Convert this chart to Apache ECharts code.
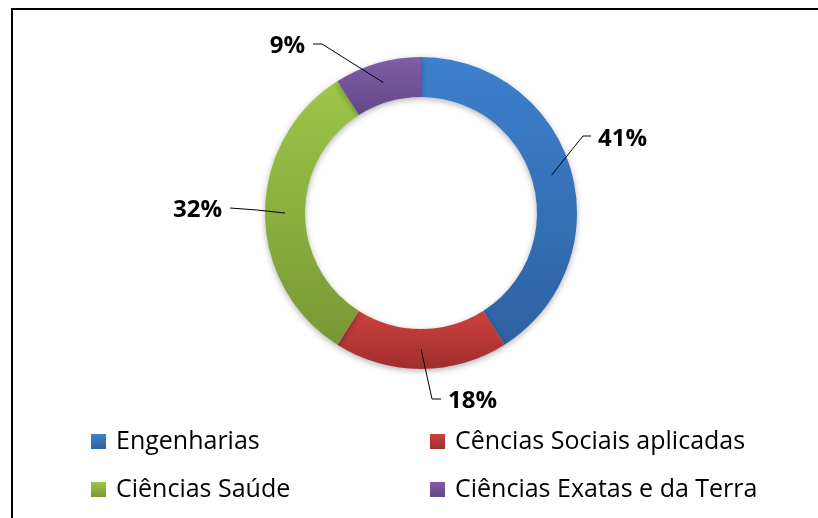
<!DOCTYPE html>
<html>
<head>
<meta charset="utf-8">
<script src="https://cdn.jsdelivr.net/npm/echarts@6/dist/echarts.min.js"></script>
<style>
html, body { margin: 0; padding: 0; background: #fff; }
#main { width: 818px; height: 518px; }
</style>
</head>
<body>
<div id="main"></div>
<script>
// data
var categories = ['Engenharias', 'Cências Sociais aplicadas', 'Ciências Saúde', 'Ciências Exatas e da Terra'];
var values = [41, 18, 32, 9];
var colorsTop = ['#3d80cd', '#cb423e', '#9dc649', '#7f5da8'];
var colorsBottom = ['#2e62a2', '#a02e2c', '#789835', '#634887'];

// geometry of the ring (px)
var cx = 421, cy = 213, rIn = 116, rOut = 156;

// where the Excel-style labels sit: label anchor + elbow + end of leader
var labelSpots = [
    { x: 598, y: 139, align: 'left', elbow: [583, 136], end: [591, 136] },
    { x: 448, y: 401, align: 'left', elbow: [432, 399], end: [441, 399] },
    { x: 222, y: 210, align: 'right', elbow: [257, 210], end: [230, 208] },
    { x: 305, y: 46, align: 'right', elbow: [322, 44], end: [313, 44] }
];

var total = values.reduce(function (a, b) { return a + b; }, 0);
function midPoint(idx) {
    var before = 0;
    for (var i = 0; i < idx; i++) before += values[i];
    var ang = (before + values[idx] / 2) / total * Math.PI * 2;
    var r = (rIn + rOut) / 2;
    return [cx + r * Math.sin(ang), cy - r * Math.cos(ang)];
}

var pieData = categories.map(function (name, i) {
    return {
        name: name,
        value: values[i],
        itemStyle: {
            color: new echarts.graphic.LinearGradient(0, 0, 0, 1, [
                { offset: 0, color: colorsTop[i] },
                { offset: 1, color: colorsBottom[i] }
            ])
        }
    };
});
// same values again, only to carry labels + leaders above the ring
var labelData = categories.map(function (name, i) {
    return { name: name, value: values[i] };
});

var myChart = echarts.init(document.getElementById('main'));
var legendText = {
    fontFamily: 'Open Sans',
    fontSize: 25,
    lineHeight: 25,
    color: '#000',
    padding: [0, 0, 0, 5]
};
var option = {
    animation: false,
    graphic: [{
        type: 'rect',
        shape: { x: 12, y: 9, width: 830, height: 530 },
        style: { fill: 'none', stroke: '#000', lineWidth: 2 },
        silent: true
    }],
    legend: [{
        orient: 'vertical',
        left: 91,
        top: 429,
        padding: 0,
        icon: 'rect',
        itemWidth: 15,
        itemHeight: 15,
        itemGap: 23,
        data: [categories[0], categories[2]],
        textStyle: legendText
    }, {
        orient: 'vertical',
        left: 430,
        top: 429,
        padding: 0,
        icon: 'rect',
        itemWidth: 15,
        itemHeight: 15,
        itemGap: 23,
        data: [categories[1], categories[3]],
        textStyle: legendText
    }],
    series: [{
        type: 'pie',
        center: [cx, cy],
        radius: [rIn, rOut],
        startAngle: 90,
        clockwise: true,
        itemStyle: {
            shadowBlur: 6,
            shadowOffsetY: 2,
            shadowColor: 'rgba(0,0,0,0.3)'
        },
        label: { show: false },
        labelLine: { show: false },
        data: pieData
    }, {
        type: 'pie',
        z: 5,
        silent: true,
        center: [cx, cy],
        radius: [rIn, rOut],
        startAngle: 90,
        clockwise: true,
        avoidLabelOverlap: false,
        itemStyle: { color: 'rgba(0,0,0,0)' },
        label: {
            show: true,
            position: 'outside',
            formatter: function (p) { return p.value + '%'; },
            fontFamily: 'Open Sans',
            fontSize: 24,
            fontWeight: 'bold',
            color: '#000'
        },
        labelLine: {
            show: true,
            lineStyle: { color: '#000', width: 1 }
        },
        labelLayout: function (params) {
            var s = labelSpots[params.dataIndex];
            return {
                x: s.x,
                y: s.y,
                align: s.align,
                verticalAlign: 'middle',
                labelLinePoints: [midPoint(params.dataIndex), s.elbow, s.end]
            };
        },
        data: labelData
    }]
};
myChart.setOption(option);
</script>
</body>
</html>
